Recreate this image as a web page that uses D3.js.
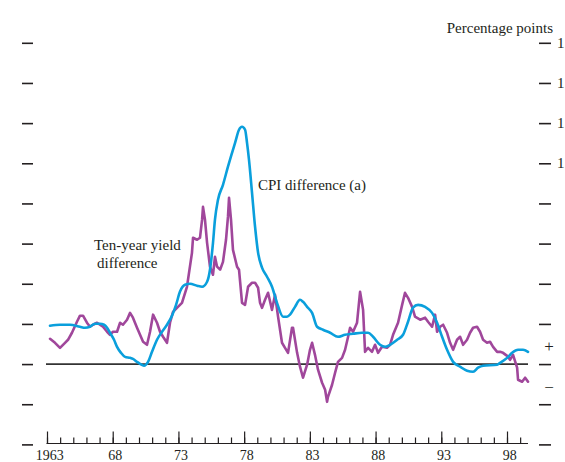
<!DOCTYPE html>
<html>
<head>
<meta charset="utf-8">
<script src="https://cdn.jsdelivr.net/npm/d3@7"></script>
<style>
	body { margin: 0; background: #fff; }
	svg { display: block; font-family: "Liberation Serif", "Times New Roman", serif; }
</style>
</head>
<body>
<svg id="chart"></svg>
<script>
// CPI difference (a), percentage points
let cpiYears = [1963.23, 1963.99, 1964.75, 1965.51, 1965.89, 1966.27, 1966.65, 1967.03, 1967.34, 1967.57,
	1967.79, 1968.10, 1968.33, 1968.63, 1968.94, 1969.32, 1969.54, 1969.85, 1970.08, 1970.38,
	1970.69, 1970.99, 1971.37, 1971.75, 1972.13, 1972.51, 1972.82, 1973.12, 1973.50, 1973.88,
	1974.42, 1974.80, 1975.18, 1975.40, 1975.63, 1975.78, 1976.01, 1976.39, 1976.77, 1977.08,
	1977.31, 1977.61, 1977.84, 1978.07, 1978.22, 1978.37, 1978.60, 1978.83, 1979.06, 1979.36,
	1979.74, 1980.12, 1980.50, 1980.96, 1981.26, 1981.49, 1981.87, 1982.25, 1982.48, 1982.79,
	1983.17, 1983.55, 1984.00, 1984.54, 1985.14, 1985.68, 1986.29, 1986.97, 1987.43, 1987.81,
	1988.34, 1988.72, 1989.10, 1989.64, 1990.09, 1990.47, 1990.85, 1991.23, 1991.77, 1992.30,
	1992.68, 1993.06, 1993.44, 1993.90, 1994.43, 1994.96, 1995.42, 1995.80, 1996.18, 1997.25,
	1997.47, 1998.01, 1998.39, 1998.84, 1999.22, 1999.60];
let cpiDiff = [1.91, 1.96, 1.96, 1.86, 1.81, 1.86, 2.01, 2.01, 1.96, 1.81,
	1.56, 1.21, 0.86, 0.56, 0.36, 0.31, 0.26, 0.11, 0.01, -0.08,
	0.11, 0.61, 1.21, 1.61, 1.96, 2.41, 2.95, 3.61, 3.95, 4.00,
	3.90, 3.85, 4.10, 4.70, 6.04, 7.19, 8.18, 8.93, 9.83, 10.52,
	11.02, 11.67, 11.82, 11.67, 11.02, 10.17, 8.53, 6.84, 5.55, 4.80,
	4.35, 3.85, 3.05, 2.36, 2.36, 2.46, 2.85, 3.20, 3.10, 2.85,
	2.55, 1.86, 1.71, 1.56, 1.36, 1.46, 1.51, 1.56, 1.56, 1.36,
	0.96, 0.86, 0.96, 1.21, 1.46, 2.11, 2.81, 2.95, 2.85, 2.55,
	2.06, 1.36, 0.71, 0.11, -0.13, -0.33, -0.38, -0.18, -0.08, -0.03,
	0.06, 0.31, 0.56, 0.71, 0.71, 0.61];

// Ten-year yield difference, percentage points
let yieldYears = [1963.23, 1963.61, 1963.99, 1964.37, 1964.60, 1964.90, 1965.28, 1965.51, 1965.74, 1966.04,
	1966.27, 1966.50, 1966.81, 1967.03, 1967.26, 1967.57, 1967.79, 1968.02, 1968.33, 1968.56,
	1968.78, 1969.09, 1969.32, 1969.54, 1969.85, 1970.08, 1970.31, 1970.61, 1970.84, 1971.07,
	1971.37, 1971.60, 1971.83, 1972.13, 1972.36, 1972.59, 1972.89, 1973.27, 1973.65, 1974.03,
	1974.11, 1974.42, 1974.64, 1974.80, 1974.87, 1975.02, 1975.18, 1975.40, 1975.63, 1975.78,
	1975.94, 1976.17, 1976.39, 1976.62, 1976.77, 1976.85, 1977.00, 1977.15, 1977.46, 1977.61,
	1977.84, 1978.07, 1978.30, 1978.60, 1978.83, 1979.06, 1979.21, 1979.36, 1979.59, 1979.82,
	1980.12, 1980.35, 1980.58, 1980.88, 1981.11, 1981.34, 1981.64, 1981.72, 1982.03, 1982.25,
	1982.48, 1982.79, 1983.01, 1983.17, 1983.39, 1983.62, 1983.93, 1984.16, 1984.31, 1984.38,
	1984.69, 1984.92, 1985.14, 1985.45, 1985.68, 1985.91, 1986.06, 1986.29, 1986.59, 1986.82,
	1987.05, 1987.20, 1987.43, 1987.73, 1987.96, 1988.19, 1988.49, 1988.87, 1989.10, 1989.33,
	1989.71, 1990.02, 1990.24, 1990.47, 1990.78, 1991.00, 1991.39, 1991.77, 1991.99, 1992.30,
	1992.53, 1992.68, 1992.91, 1993.14, 1993.44, 1993.67, 1993.90, 1994.20, 1994.43, 1994.66,
	1994.96, 1995.19, 1995.42, 1995.72, 1995.95, 1996.18, 1996.48, 1996.71, 1996.94, 1997.25,
	1997.47, 1997.70, 1998.01, 1998.23, 1998.46, 1998.77, 1998.84, 1999.15, 1999.38, 1999.60];
let yieldDiff = [1.26, 1.06, 0.81, 1.06, 1.21, 1.56, 2.11, 2.41, 2.41, 2.06,
	1.86, 1.96, 2.06, 1.96, 1.86, 1.61, 1.46, 1.61, 1.61, 2.06,
	1.96, 2.21, 2.55, 2.31, 1.81, 1.46, 1.11, 0.96, 1.61, 2.46,
	2.06, 1.61, 1.36, 1.06, 2.06, 2.60, 2.80, 3.05, 3.85, 5.54,
	6.29, 6.19, 6.29, 7.19, 7.83, 7.19, 6.04, 4.85, 4.45, 5.34,
	4.85, 4.70, 5.09, 6.19, 7.34, 8.28, 7.19, 5.69, 4.85, 4.70,
	3.05, 2.95, 3.85, 4.05, 4.05, 3.80, 3.05, 2.80, 3.20, 3.55,
	2.70, 3.45, 2.36, 1.06, 0.81, 0.56, 1.81, 1.81, 0.56, -0.13,
	-0.68, -0.03, 0.71, 1.06, 0.46, -0.28, -0.93, -1.28, -1.88, -1.63,
	-1.03, -0.43, 0.11, 0.31, 0.71, 1.36, 1.81, 1.61, 2.06, 3.60,
	2.70, 0.61, 0.81, 0.61, 0.96, 0.56, 0.86, 0.81, 0.96, 1.46,
	2.06, 2.95, 3.55, 3.30, 2.85, 2.36, 2.21, 2.31, 2.11, 1.86,
	2.46, 1.61, 1.86, 1.96, 1.56, 1.06, 0.71, 1.21, 1.36, 0.96,
	1.21, 1.56, 1.81, 1.86, 1.61, 1.21, 1.06, 1.11, 0.86, 0.61,
	0.61, 0.56, 0.41, 0.21, 0.46, -0.18, -0.78, -0.88, -0.68, -0.88];

let yTicks = [-4, -2, 0, 2, 4, 6, 8, 10, 12, 14, 16];
// only the leading digit of the top labels shows on the right edge
let rightLabelTicks = [10, 12, 14, 16];
let rightLabels = ["1", "1", "1", "1"];
let yearTicks = d3.range(1963, 2000);
let yearLabelYears = [1963, 1968, 1973, 1978, 1983, 1988, 1993, 1998];
let yearLabels = ["1963", "68", "73", "78", "83", "88", "93", "98"];

function drawChart()
{
	let svgWidth = 565, svgHeight = 462;
	let svg = d3.select("#chart")
		.attr("width", svgWidth)
		.attr("height", svgHeight);

	let ink = "#231f20";

	//scales
	let x = d3.scaleLinear()
		.domain([1963, 1998])
		.range([47, 507]);
	let y = d3.scaleLinear()
		.domain([-4, 16])
		.range([444.4, 42.8]);

	//left tick marks, no labels
	let left = svg.append("g")
		.attr("transform", "translate(22,0)")
		.call(d3.axisRight(y).tickValues(yTicks).tickSize(11).tickFormat(""));
	left.select(".domain").remove();

	//right tick marks
	let right = svg.append("g")
		.attr("transform", "translate(539,0)")
		.call(d3.axisRight(y).tickValues(yTicks).tickSize(12).tickFormat(""));
	right.select(".domain").remove();

	svg.append("g")
		.selectAll("text")
		.data(rightLabelTicks)
		.enter()
		.append("text")
		.attr("x", 557)
		.attr("y", d => y(d) + 5)
		.attr("font-size", 15)
		.attr("fill", ink)
		.text((d, i) => rightLabels[i]);

	svg.selectAll(".tick line")
		.attr("stroke", ink)
		.attr("stroke-width", 1.6);

	//sign markers beside zero
	svg.append("text")
		.attr("x", 549).attr("y", y(0) - 12)
		.attr("text-anchor", "middle")
		.attr("font-size", 17)
		.attr("fill", ink)
		.text("+");
	svg.append("text")
		.attr("x", 549).attr("y", y(0) + 29)
		.attr("text-anchor", "middle")
		.attr("font-size", 17)
		.attr("fill", ink)
		.text("−");

	svg.append("text")
		.attr("x", 553).attr("y", 33)
		.attr("text-anchor", "end")
		.attr("font-size", 15)
		.attr("fill", ink)
		.text("Percentage points");

	//x axis, ticks pointing up
	let xBase = 443.5;
	let minor = svg.append("g")
		.attr("transform", "translate(0," + xBase + ")")
		.call(d3.axisBottom(x).tickValues(yearTicks).tickSize(-6).tickFormat(""));
	minor.select(".domain").attr("d", "M46.5,0H528").attr("stroke", ink).attr("stroke-width", 1.2);
	minor.selectAll(".tick line").attr("stroke", ink).attr("stroke-width", 1.2);

	let major = svg.append("g")
		.attr("transform", "translate(0," + xBase + ")")
		.call(d3.axisBottom(x).tickValues(yearLabelYears).tickSize(-12).tickFormat(""));
	major.select(".domain").remove();
	major.selectAll(".tick line").attr("stroke", ink).attr("stroke-width", 1.2);

	svg.append("g")
		.selectAll("text")
		.data(yearLabelYears)
		.enter()
		.append("text")
		.attr("x", d => x(d + 0.2))
		.attr("y", 460)
		.attr("text-anchor", "middle")
		.attr("font-size", 14)
		.attr("fill", ink)
		.text((d, i) => yearLabels[i]);

	//zero line
	svg.append("line")
		.attr("x1", 46).attr("x2", 528)
		.attr("y1", y(0)).attr("y2", y(0))
		.attr("stroke", "#333")
		.attr("stroke-width", 1.6);

	let line = d3.line()
		.x(d => x(d[0]))
		.y(d => y(d[1]));

	let cpiData = cpiYears.map((t, i) => [t, cpiDiff[i]]);
	let yieldData = yieldYears.map((t, i) => [t, yieldDiff[i]]);

	svg.append("path")
		.datum(yieldData)
		.attr("fill", "none")
		.attr("stroke", "#a0479b")
		.attr("stroke-width", 2.6)
		.attr("stroke-linejoin", "round")
		.attr("stroke-linecap", "round")
		.attr("d", line);

	svg.append("path")
		.datum(cpiData)
		.attr("fill", "none")
		.attr("stroke", "#0a9fdc")
		.attr("stroke-width", 2.6)
		.attr("stroke-linejoin", "round")
		.attr("stroke-linecap", "round")
		.attr("d", line.curve(d3.curveMonotoneX));

	//annotations
	let notes = [
		{ text: "CPI difference (a)", x: 258, y: 190 },
		{ text: "Ten-year yield", x: 94, y: 250 },
		{ text: "difference", x: 97, y: 268 }
	];
	svg.append("g")
		.selectAll("text")
		.data(notes)
		.enter()
		.append("text")
		.attr("x", d => d.x)
		.attr("y", d => d.y)
		.attr("font-size", 15)
		.attr("fill", ink)
		.text(d => d.text);
}

drawChart();
</script>
</body>
</html>
